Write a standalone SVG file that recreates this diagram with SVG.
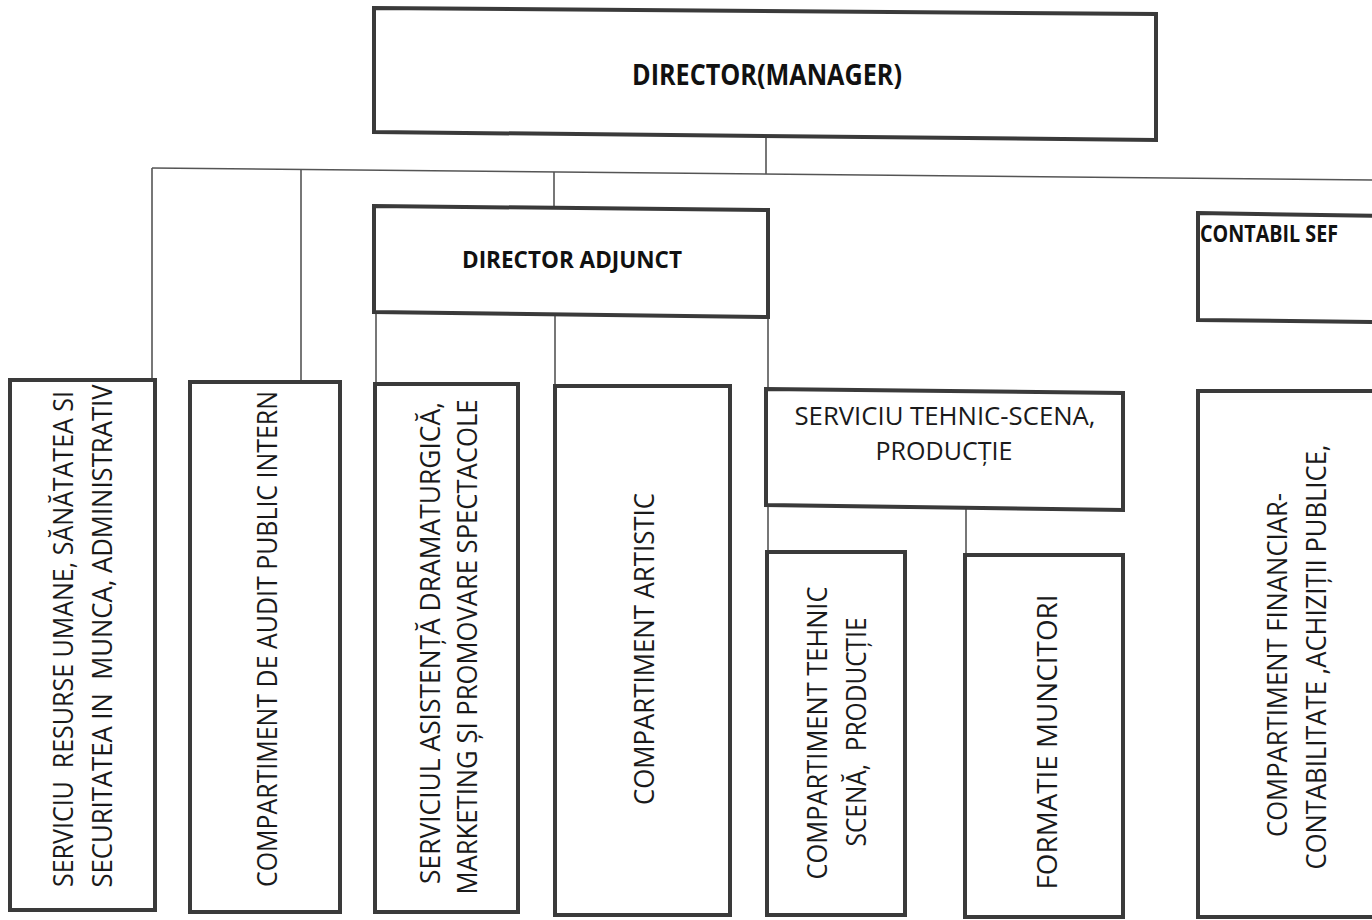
<svg xmlns="http://www.w3.org/2000/svg" width="1372" height="920" viewBox="0 0 1372 920">
<style>
.box{fill:#fff;stroke:#3a3a3a;stroke-width:4}
.con{stroke:#555;stroke-width:1.6;fill:none}
.t{font-family:"Open Sans","Liberation Sans",sans-serif;font-size:28px;fill:#1a1a1a}
.h{font-family:"Open Sans","Liberation Sans",sans-serif;font-size:25px;fill:#1a1a1a}
.b{font-family:"Open Sans","Liberation Sans",sans-serif;font-size:24px;font-weight:bold;fill:#111}
</style>
<rect width="1372" height="920" fill="#fff"/>
<g id="connectors">
<line class="con" x1="766" y1="137" x2="766" y2="174"/>
<line class="con" x1="152" y1="168" x2="1372" y2="180"/>
<line class="con" x1="152" y1="168" x2="152" y2="380"/>
<line class="con" x1="301" y1="169.5" x2="301" y2="382"/>
<line class="con" x1="554" y1="172" x2="554" y2="208"/>
<line class="con" x1="376" y1="313" x2="376" y2="384"/>
<line class="con" x1="555" y1="315" x2="555" y2="386"/>
<line class="con" x1="768" y1="317" x2="768" y2="552"/>
<line class="con" x1="966" y1="507" x2="966" y2="555"/>
</g>
<g id="director">
<polygon class="box" points="374,8 1156,14 1156,140 374,132"/>
<text class="b" x="767" y="85" text-anchor="middle" textLength="270" lengthAdjust="spacingAndGlyphs" style="font-size:28px">DIRECTOR(MANAGER)</text>
</g>
<g id="director-adjunct">
<polygon class="box" points="374,206 768,210 768,317 374,312"/>
<text class="b" x="572" y="268" text-anchor="middle" textLength="220" lengthAdjust="spacingAndGlyphs">DIRECTOR ADJUNCT</text>
</g>
<g id="contabil-sef">
<polygon class="box" points="1198,213 1380,216 1380,322 1198,320"/>
<text class="b" x="1200" y="242" textLength="138" lengthAdjust="spacingAndGlyphs">CONTABIL SEF</text>
</g>
<g id="serviciu-resurse">
<rect class="box" x="10" y="380" width="145" height="530"/>
<text class="t" xml:space="preserve" transform="rotate(-90 73 639)" x="73" y="639" text-anchor="middle" textLength="496" lengthAdjust="spacingAndGlyphs">SERVICIU  RESURSE UMANE, SĂNĂTATEA SI</text>
<text class="t" xml:space="preserve" transform="rotate(-90 112 636)" x="112" y="636" text-anchor="middle" textLength="503" lengthAdjust="spacingAndGlyphs">SECURITATEA IN  MUNCA, ADMINISTRATIV</text>
</g>
<g id="audit">
<rect class="box" x="190" y="382" width="150" height="530"/>
<text class="t" transform="rotate(-90 277 639)" x="277" y="639" text-anchor="middle" textLength="496" lengthAdjust="spacingAndGlyphs">COMPARTIMENT DE AUDIT PUBLIC INTERN</text>
</g>
<g id="serviciul-asistenta">
<rect class="box" x="375" y="384" width="143" height="528"/>
<text class="t" transform="rotate(-90 440 643)" x="440" y="643" text-anchor="middle" textLength="482" lengthAdjust="spacingAndGlyphs">SERVICIUL ASISTENȚĂ DRAMATURGICĂ,</text>
<text class="t" transform="rotate(-90 477 647)" x="477" y="647" text-anchor="middle" textLength="495" lengthAdjust="spacingAndGlyphs">MARKETING ȘI PROMOVARE SPECTACOLE</text>
</g>
<g id="artistic">
<rect class="box" x="555" y="386" width="175" height="529"/>
<text class="t" transform="rotate(-90 654 649)" x="654" y="649" text-anchor="middle" textLength="312" lengthAdjust="spacingAndGlyphs">COMPARTIMENT ARTISTIC</text>
</g>
<g id="serviciu-tehnic">
<polygon class="box" points="766,389 1123,393 1123,510 766,505"/>
<text class="h" x="945" y="425" text-anchor="middle" textLength="301" lengthAdjust="spacingAndGlyphs">SERVICIU TEHNIC-SCENA,</text>
<text class="h" x="944" y="460" text-anchor="middle" textLength="137" lengthAdjust="spacingAndGlyphs">PRODUCȚIE</text>
</g>
<g id="compartiment-tehnic">
<rect class="box" x="767" y="552" width="138" height="363"/>
<text class="t" transform="rotate(-90 827 733)" x="827" y="733" text-anchor="middle" textLength="293" lengthAdjust="spacingAndGlyphs">COMPARTIMENT TEHNIC</text>
<text class="t" xml:space="preserve" transform="rotate(-90 866 732)" x="866" y="732" text-anchor="middle" textLength="229" lengthAdjust="spacingAndGlyphs">SCENĂ,  PRODUCȚIE</text>
</g>
<g id="formatie">
<rect class="box" x="965" y="555" width="158" height="362"/>
<text class="t" transform="rotate(-90 1057 742)" x="1057" y="742" text-anchor="middle" textLength="295" lengthAdjust="spacingAndGlyphs">FORMATIE MUNCITORI</text>
</g>
<g id="financiar">
<rect class="box" x="1198" y="391" width="182" height="526"/>
<text class="t" transform="rotate(-90 1287 665)" x="1287" y="665" text-anchor="middle" textLength="344" lengthAdjust="spacingAndGlyphs">COMPARTIMENT FINANCIAR-</text>
<text class="t" transform="rotate(-90 1326 657)" x="1326" y="657" text-anchor="middle" textLength="425" lengthAdjust="spacingAndGlyphs">CONTABILITATE ,ACHIZIȚII PUBLICE,</text>
</g>
</svg>
